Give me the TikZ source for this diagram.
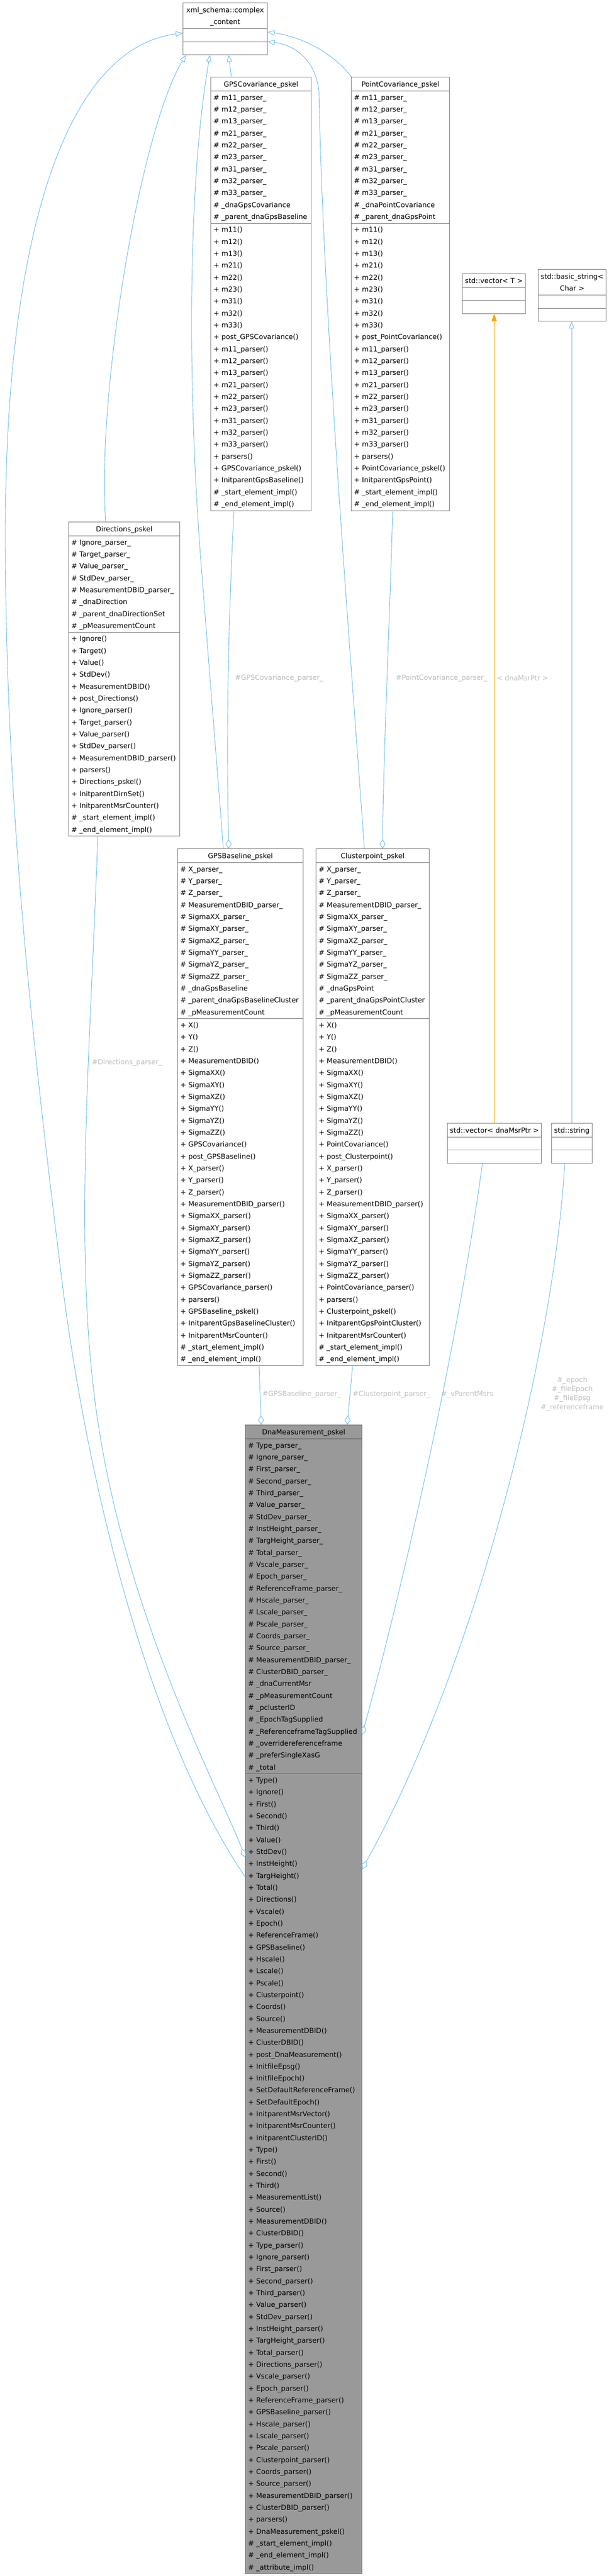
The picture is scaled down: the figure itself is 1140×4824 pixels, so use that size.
\documentclass[tikz,border=0pt]{standalone}
\usepackage{fontspec}
\setmainfont{DejaVu Sans}
\usepackage{tikz}
\usetikzlibrary{shapes.multipart, arrows.meta, positioning}
\definecolor{edgeblue}{HTML}{63B8FF}
\definecolor{edgeorange}{HTML}{FFA500}
\definecolor{edgegrey}{HTML}{BEBEBE}
\definecolor{boxgrey}{HTML}{808080}
\definecolor{maingrey}{HTML}{999999}
\definecolor{mainline}{HTML}{666666}
\newcommand{\prot}[1]{\mbox{\strut\#\ #1}}
\newcommand{\pub}[1]{\mbox{\strut+\ #1}}
\newcommand{\tline}[1]{\makebox[\linewidth]{#1}}
\newcommand{\ctitle}[1]{\fontsize{13}{17}\selectfont\rule{0pt}{17pt}#1\rule[-7pt]{0pt}{7pt}}

\begin{document}
\begin{tikzpicture}[x=1pt, y=-1pt,
	cls/.style={rectangle split, rectangle split parts=3, draw=boxgrey, line width=1pt, fill=white, anchor=north west, inner xsep=5pt, inner ysep=0.5pt, align=left, font=\fontsize{13}{22.33}\selectfont},
	maincls/.style={cls, draw=mainline, fill=maingrey},
	inh/.style={draw=edgeblue, line width=0.9pt, -{Triangle[open, length=13pt, width=10pt]}},
	agg/.style={draw=edgeblue, line width=0.9pt, -{Diamond[open, length=17pt, width=11pt]}},
	tmpl/.style={draw=edgeorange, line width=0.9pt, -{Triangle[length=14pt, width=10pt]}},
	elab/.style={text=edgegrey, font=\fontsize{13}{17}\selectfont, inner sep=0pt}]
		\path[use as bounding box, fill=white] (0,0) rectangle (1140,4824);
		
		\node[cls, text width=148pt] (xml) at (342,5) {\ctitle{\tline{xml\_schema::complex}\\\tline{\_content}}
			\nodepart{two}\strut
			\nodepart{three}\strut};
		
		\node[cls, text width=178pt] (gpsc) at (394,144) {\ctitle{\tline{GPSCovariance\_pskel}}
			\nodepart{two}\prot{m11\_parser\_}\\\prot{m12\_parser\_}\\\prot{m13\_parser\_}\\\prot{m21\_parser\_}\\\prot{m22\_parser\_}\\\prot{m23\_parser\_}\\\prot{m31\_parser\_}\\\prot{m32\_parser\_}\\\prot{m33\_parser\_}\\\prot{\_dnaGpsCovariance}\\\prot{\_parent\_dnaGpsBaseline}
			\nodepart{three}\pub{m11()}\\\pub{m12()}\\\pub{m13()}\\\pub{m21()}\\\pub{m22()}\\\pub{m23()}\\\pub{m31()}\\\pub{m32()}\\\pub{m33()}\\\pub{post\_GPSCovariance()}\\\pub{m11\_parser()}\\\pub{m12\_parser()}\\\pub{m13\_parser()}\\\pub{m21\_parser()}\\\pub{m22\_parser()}\\\pub{m23\_parser()}\\\pub{m31\_parser()}\\\pub{m32\_parser()}\\\pub{m33\_parser()}\\\pub{parsers()}\\\pub{GPSCovariance\_pskel()}\\\pub{InitparentGpsBaseline()}\\\prot{\_start\_element\_impl()}\\\prot{\_end\_element\_impl()}};
		
		\node[cls, text width=174pt] (ptc) at (657,144) {\ctitle{\tline{PointCovariance\_pskel}}
			\nodepart{two}\prot{m11\_parser\_}\\\prot{m12\_parser\_}\\\prot{m13\_parser\_}\\\prot{m21\_parser\_}\\\prot{m22\_parser\_}\\\prot{m23\_parser\_}\\\prot{m31\_parser\_}\\\prot{m32\_parser\_}\\\prot{m33\_parser\_}\\\prot{\_dnaPointCovariance}\\\prot{\_parent\_dnaGpsPoint}
			\nodepart{three}\pub{m11()}\\\pub{m12()}\\\pub{m13()}\\\pub{m21()}\\\pub{m22()}\\\pub{m23()}\\\pub{m31()}\\\pub{m32()}\\\pub{m33()}\\\pub{post\_PointCovariance()}\\\pub{m11\_parser()}\\\pub{m12\_parser()}\\\pub{m13\_parser()}\\\pub{m21\_parser()}\\\pub{m22\_parser()}\\\pub{m23\_parser()}\\\pub{m31\_parser()}\\\pub{m32\_parser()}\\\pub{m33\_parser()}\\\pub{parsers()}\\\pub{PointCovariance\_pskel()}\\\pub{InitparentGpsPoint()}\\\prot{\_start\_element\_impl()}\\\prot{\_end\_element\_impl()}};
		
		\node[cls, text width=108pt] (vect) at (865,512) {\ctitle{\tline{std::vector< T >}}
			\nodepart{two}\strut
			\nodepart{three}\strut};
		
		\node[cls, text width=117pt] (bstr) at (1007,504) {\ctitle{\tline{std::basic\_string<}\\\tline{Char >}}
			\nodepart{two}\strut
			\nodepart{three}\strut};
		
		\node[cls, text width=198pt] (dir) at (128,977) {\ctitle{\tline{Directions\_pskel}}
			\nodepart{two}\prot{Ignore\_parser\_}\\\prot{Target\_parser\_}\\\prot{Value\_parser\_}\\\prot{StdDev\_parser\_}\\\prot{MeasurementDBID\_parser\_}\\\prot{\_dnaDirection}\\\prot{\_parent\_dnaDirectionSet}\\\prot{\_pMeasurementCount}
			\nodepart{three}\pub{Ignore()}\\\pub{Target()}\\\pub{Value()}\\\pub{StdDev()}\\\pub{MeasurementDBID()}\\\pub{post\_Directions()}\\\pub{Ignore\_parser()}\\\pub{Target\_parser()}\\\pub{Value\_parser()}\\\pub{StdDev\_parser()}\\\pub{MeasurementDBID\_parser()}\\\pub{parsers()}\\\pub{Directions\_pskel()}\\\pub{InitparentDirnSet()}\\\pub{InitparentMsrCounter()}\\\prot{\_start\_element\_impl()}\\\prot{\_end\_element\_impl()}};
		
		\node[cls, text width=225pt] (gpsb) at (332,1589) {\ctitle{\tline{GPSBaseline\_pskel}}
			\nodepart{two}\prot{X\_parser\_}\\\prot{Y\_parser\_}\\\prot{Z\_parser\_}\\\prot{MeasurementDBID\_parser\_}\\\prot{SigmaXX\_parser\_}\\\prot{SigmaXY\_parser\_}\\\prot{SigmaXZ\_parser\_}\\\prot{SigmaYY\_parser\_}\\\prot{SigmaYZ\_parser\_}\\\prot{SigmaZZ\_parser\_}\\\prot{\_dnaGpsBaseline}\\\prot{\_parent\_dnaGpsBaselineCluster}\\\prot{\_pMeasurementCount}
			\nodepart{three}\pub{X()}\\\pub{Y()}\\\pub{Z()}\\\pub{MeasurementDBID()}\\\pub{SigmaXX()}\\\pub{SigmaXY()}\\\pub{SigmaXZ()}\\\pub{SigmaYY()}\\\pub{SigmaYZ()}\\\pub{SigmaZZ()}\\\pub{GPSCovariance()}\\\pub{post\_GPSBaseline()}\\\pub{X\_parser()}\\\pub{Y\_parser()}\\\pub{Z\_parser()}\\\pub{MeasurementDBID\_parser()}\\\pub{SigmaXX\_parser()}\\\pub{SigmaXY\_parser()}\\\pub{SigmaXZ\_parser()}\\\pub{SigmaYY\_parser()}\\\pub{SigmaYZ\_parser()}\\\pub{SigmaZZ\_parser()}\\\pub{GPSCovariance\_parser()}\\\pub{parsers()}\\\pub{GPSBaseline\_pskel()}\\\pub{InitparentGpsBaselineCluster()}\\\pub{InitparentMsrCounter()}\\\prot{\_start\_element\_impl()}\\\prot{\_end\_element\_impl()}};
		
		\node[cls, text width=202pt] (clp) at (591,1589) {\ctitle{\tline{Clusterpoint\_pskel}}
			\nodepart{two}\prot{X\_parser\_}\\\prot{Y\_parser\_}\\\prot{Z\_parser\_}\\\prot{MeasurementDBID\_parser\_}\\\prot{SigmaXX\_parser\_}\\\prot{SigmaXY\_parser\_}\\\prot{SigmaXZ\_parser\_}\\\prot{SigmaYY\_parser\_}\\\prot{SigmaYZ\_parser\_}\\\prot{SigmaZZ\_parser\_}\\\prot{\_dnaGpsPoint}\\\prot{\_parent\_dnaGpsPointCluster}\\\prot{\_pMeasurementCount}
			\nodepart{three}\pub{X()}\\\pub{Y()}\\\pub{Z()}\\\pub{MeasurementDBID()}\\\pub{SigmaXX()}\\\pub{SigmaXY()}\\\pub{SigmaXZ()}\\\pub{SigmaYY()}\\\pub{SigmaYZ()}\\\pub{SigmaZZ()}\\\pub{PointCovariance()}\\\pub{post\_Clusterpoint()}\\\pub{X\_parser()}\\\pub{Y\_parser()}\\\pub{Z\_parser()}\\\pub{MeasurementDBID\_parser()}\\\pub{SigmaXX\_parser()}\\\pub{SigmaXY\_parser()}\\\pub{SigmaXZ\_parser()}\\\pub{SigmaYY\_parser()}\\\pub{SigmaYZ\_parser()}\\\pub{SigmaZZ\_parser()}\\\pub{PointCovariance\_parser()}\\\pub{parsers()}\\\pub{Clusterpoint\_pskel()}\\\pub{InitparentGpsPointCluster()}\\\pub{InitparentMsrCounter()}\\\prot{\_start\_element\_impl()}\\\prot{\_end\_element\_impl()}};
		
		\node[cls, text width=166pt] (vecmsr) at (837,2103) {\ctitle{\tline{std::vector< dnaMsrPtr >}}
			\nodepart{two}\strut
			\nodepart{three}\strut};
		
		\node[cls, text width=66pt] (str) at (1032,2103) {\ctitle{\tline{std::string}}
			\nodepart{two}\strut
			\nodepart{three}\strut};
		
		\node[maincls, text width=208pt] (dna) at (459,2668) {\ctitle{\tline{DnaMeasurement\_pskel}}
			\nodepart{two}\prot{Type\_parser\_}\\\prot{Ignore\_parser\_}\\\prot{First\_parser\_}\\\prot{Second\_parser\_}\\\prot{Third\_parser\_}\\\prot{Value\_parser\_}\\\prot{StdDev\_parser\_}\\\prot{InstHeight\_parser\_}\\\prot{TargHeight\_parser\_}\\\prot{Total\_parser\_}\\\prot{Vscale\_parser\_}\\\prot{Epoch\_parser\_}\\\prot{ReferenceFrame\_parser\_}\\\prot{Hscale\_parser\_}\\\prot{Lscale\_parser\_}\\\prot{Pscale\_parser\_}\\\prot{Coords\_parser\_}\\\prot{Source\_parser\_}\\\prot{MeasurementDBID\_parser\_}\\\prot{ClusterDBID\_parser\_}\\\prot{\_dnaCurrentMsr}\\\prot{\_pMeasurementCount}\\\prot{\_pclusterID}\\\prot{\_EpochTagSupplied}\\\prot{\_ReferenceframeTagSupplied}\\\prot{\_overridereferenceframe}\\\prot{\_preferSingleXasG}\\\prot{\_total}
			\nodepart{three}\pub{Type()}\\\pub{Ignore()}\\\pub{First()}\\\pub{Second()}\\\pub{Third()}\\\pub{Value()}\\\pub{StdDev()}\\\pub{InstHeight()}\\\pub{TargHeight()}\\\pub{Total()}\\\pub{Directions()}\\\pub{Vscale()}\\\pub{Epoch()}\\\pub{ReferenceFrame()}\\\pub{GPSBaseline()}\\\pub{Hscale()}\\\pub{Lscale()}\\\pub{Pscale()}\\\pub{Clusterpoint()}\\\pub{Coords()}\\\pub{Source()}\\\pub{MeasurementDBID()}\\\pub{ClusterDBID()}\\\pub{post\_DnaMeasurement()}\\\pub{InitfileEpsg()}\\\pub{InitfileEpoch()}\\\pub{SetDefaultReferenceFrame()}\\\pub{SetDefaultEpoch()}\\\pub{InitparentMsrVector()}\\\pub{InitparentMsrCounter()}\\\pub{InitparentClusterID()}\\\pub{Type()}\\\pub{First()}\\\pub{Second()}\\\pub{Third()}\\\pub{MeasurementList()}\\\pub{Source()}\\\pub{MeasurementDBID()}\\\pub{ClusterDBID()}\\\pub{Type\_parser()}\\\pub{Ignore\_parser()}\\\pub{First\_parser()}\\\pub{Second\_parser()}\\\pub{Third\_parser()}\\\pub{Value\_parser()}\\\pub{StdDev\_parser()}\\\pub{InstHeight\_parser()}\\\pub{TargHeight\_parser()}\\\pub{Total\_parser()}\\\pub{Directions\_parser()}\\\pub{Vscale\_parser()}\\\pub{Epoch\_parser()}\\\pub{ReferenceFrame\_parser()}\\\pub{GPSBaseline\_parser()}\\\pub{Hscale\_parser()}\\\pub{Lscale\_parser()}\\\pub{Pscale\_parser()}\\\pub{Clusterpoint\_parser()}\\\pub{Coords\_parser()}\\\pub{Source\_parser()}\\\pub{MeasurementDBID\_parser()}\\\pub{ClusterDBID\_parser()}\\\pub{parsers()}\\\pub{DnaMeasurement\_pskel()}\\\prot{\_start\_element\_impl()}\\\prot{\_end\_element\_impl()}\\\prot{\_attribute\_impl()}};
		
		\draw[inh] (dna.west |- 0,3515) .. controls (280,3250) and (170,2800) .. (120,2430) .. controls (60,1950) and (10,1500) .. (10,1000) .. controls (10,450) and (120,90) .. (xml.west |- 0,62);
		\draw[inh] (dir.north -| 198,0) .. controls (180,750) and (260,250) .. (xml.south -| 348,0);
		\draw[inh] (gpsb.north -| 418,0) .. controls (410,1480) and (395,1300) .. (380,1100) .. controls (350,750) and (350,350) .. (xml.south -| 393,0);
		\draw[inh] (gpsc.north -| 433,0) -- (xml.south -| 428,0);
		\draw[inh] (ptc.north -| 658,0) .. controls (620,95) and (560,68) .. (xml.east |- 0,60);
		\draw[inh] (clp.north -| 682,0) .. controls (662,1300) and (605,600) .. (597,170) .. controls (590,110) and (550,84) .. (xml.east |- 0,78);
		\draw[inh] (str.north -| 1070,0) -- (bstr.south -| 1070,0);
		\draw[tmpl] (vecmsr.north -| 925,0) -- (vect.south -| 925,0);
		
		\draw[agg] (gpsc.south -| 438,0) .. controls (428,1150) and (423,1350) .. (gpsb.north -| 428,0);
		\draw[agg] (ptc.south -| 735,0) .. controls (730,1150) and (718,1400) .. (clp.north -| 716,0);
		\draw[agg] (dir.south -| 183,0) .. controls (170,1950) and (140,2300) .. (175,2600) .. controls (220,3000) and (410,3350) .. (dna.west |- 0,3478);
		\draw[agg] (gpsb.south -| 485,0) -- (dna.north -| 489,0);
		\draw[agg] (clp.south -| 660,0) -- (dna.north -| 650,0);
		\draw[agg] (vecmsr.south -| 903,0) .. controls (860,2500) and (760,2950) .. (dna.east |- 0,3248);
		\draw[agg] (str.south -| 1057,0) .. controls (1040,2500) and (900,3100) .. (dna.east |- 0,3500);
		
		\node[elab, anchor=west] (lgpscov) at (440,1270) {\#GPSCovariance\_parser\_};
		\node[elab, anchor=west] (lptcov) at (741,1270) {\#PointCovariance\_parser\_};
		\node[elab, anchor=west] (lmsrptr) at (930,1270) {< dnaMsrPtr >};
		\node[elab, anchor=west] (ldir) at (172,1990) {\#Directions\_parser\_};
		\node[elab, anchor=west] (lgpsb) at (491,2611) {\#GPSBaseline\_parser\_};
		\node[elab, anchor=west] (lclp) at (660,2611) {\#Clusterpoint\_parser\_};
		\node[elab, anchor=west] (lmsrs) at (826,2611) {\#\_vParentMsrs};
		\node[elab, align=center] (lepoch) at (1071,2611) {\#\_epoch\\\#\_fileEpoch\\\#\_fileEpsg\\\#\_referenceframe};
		
	\end{tikzpicture}
\end{document}
